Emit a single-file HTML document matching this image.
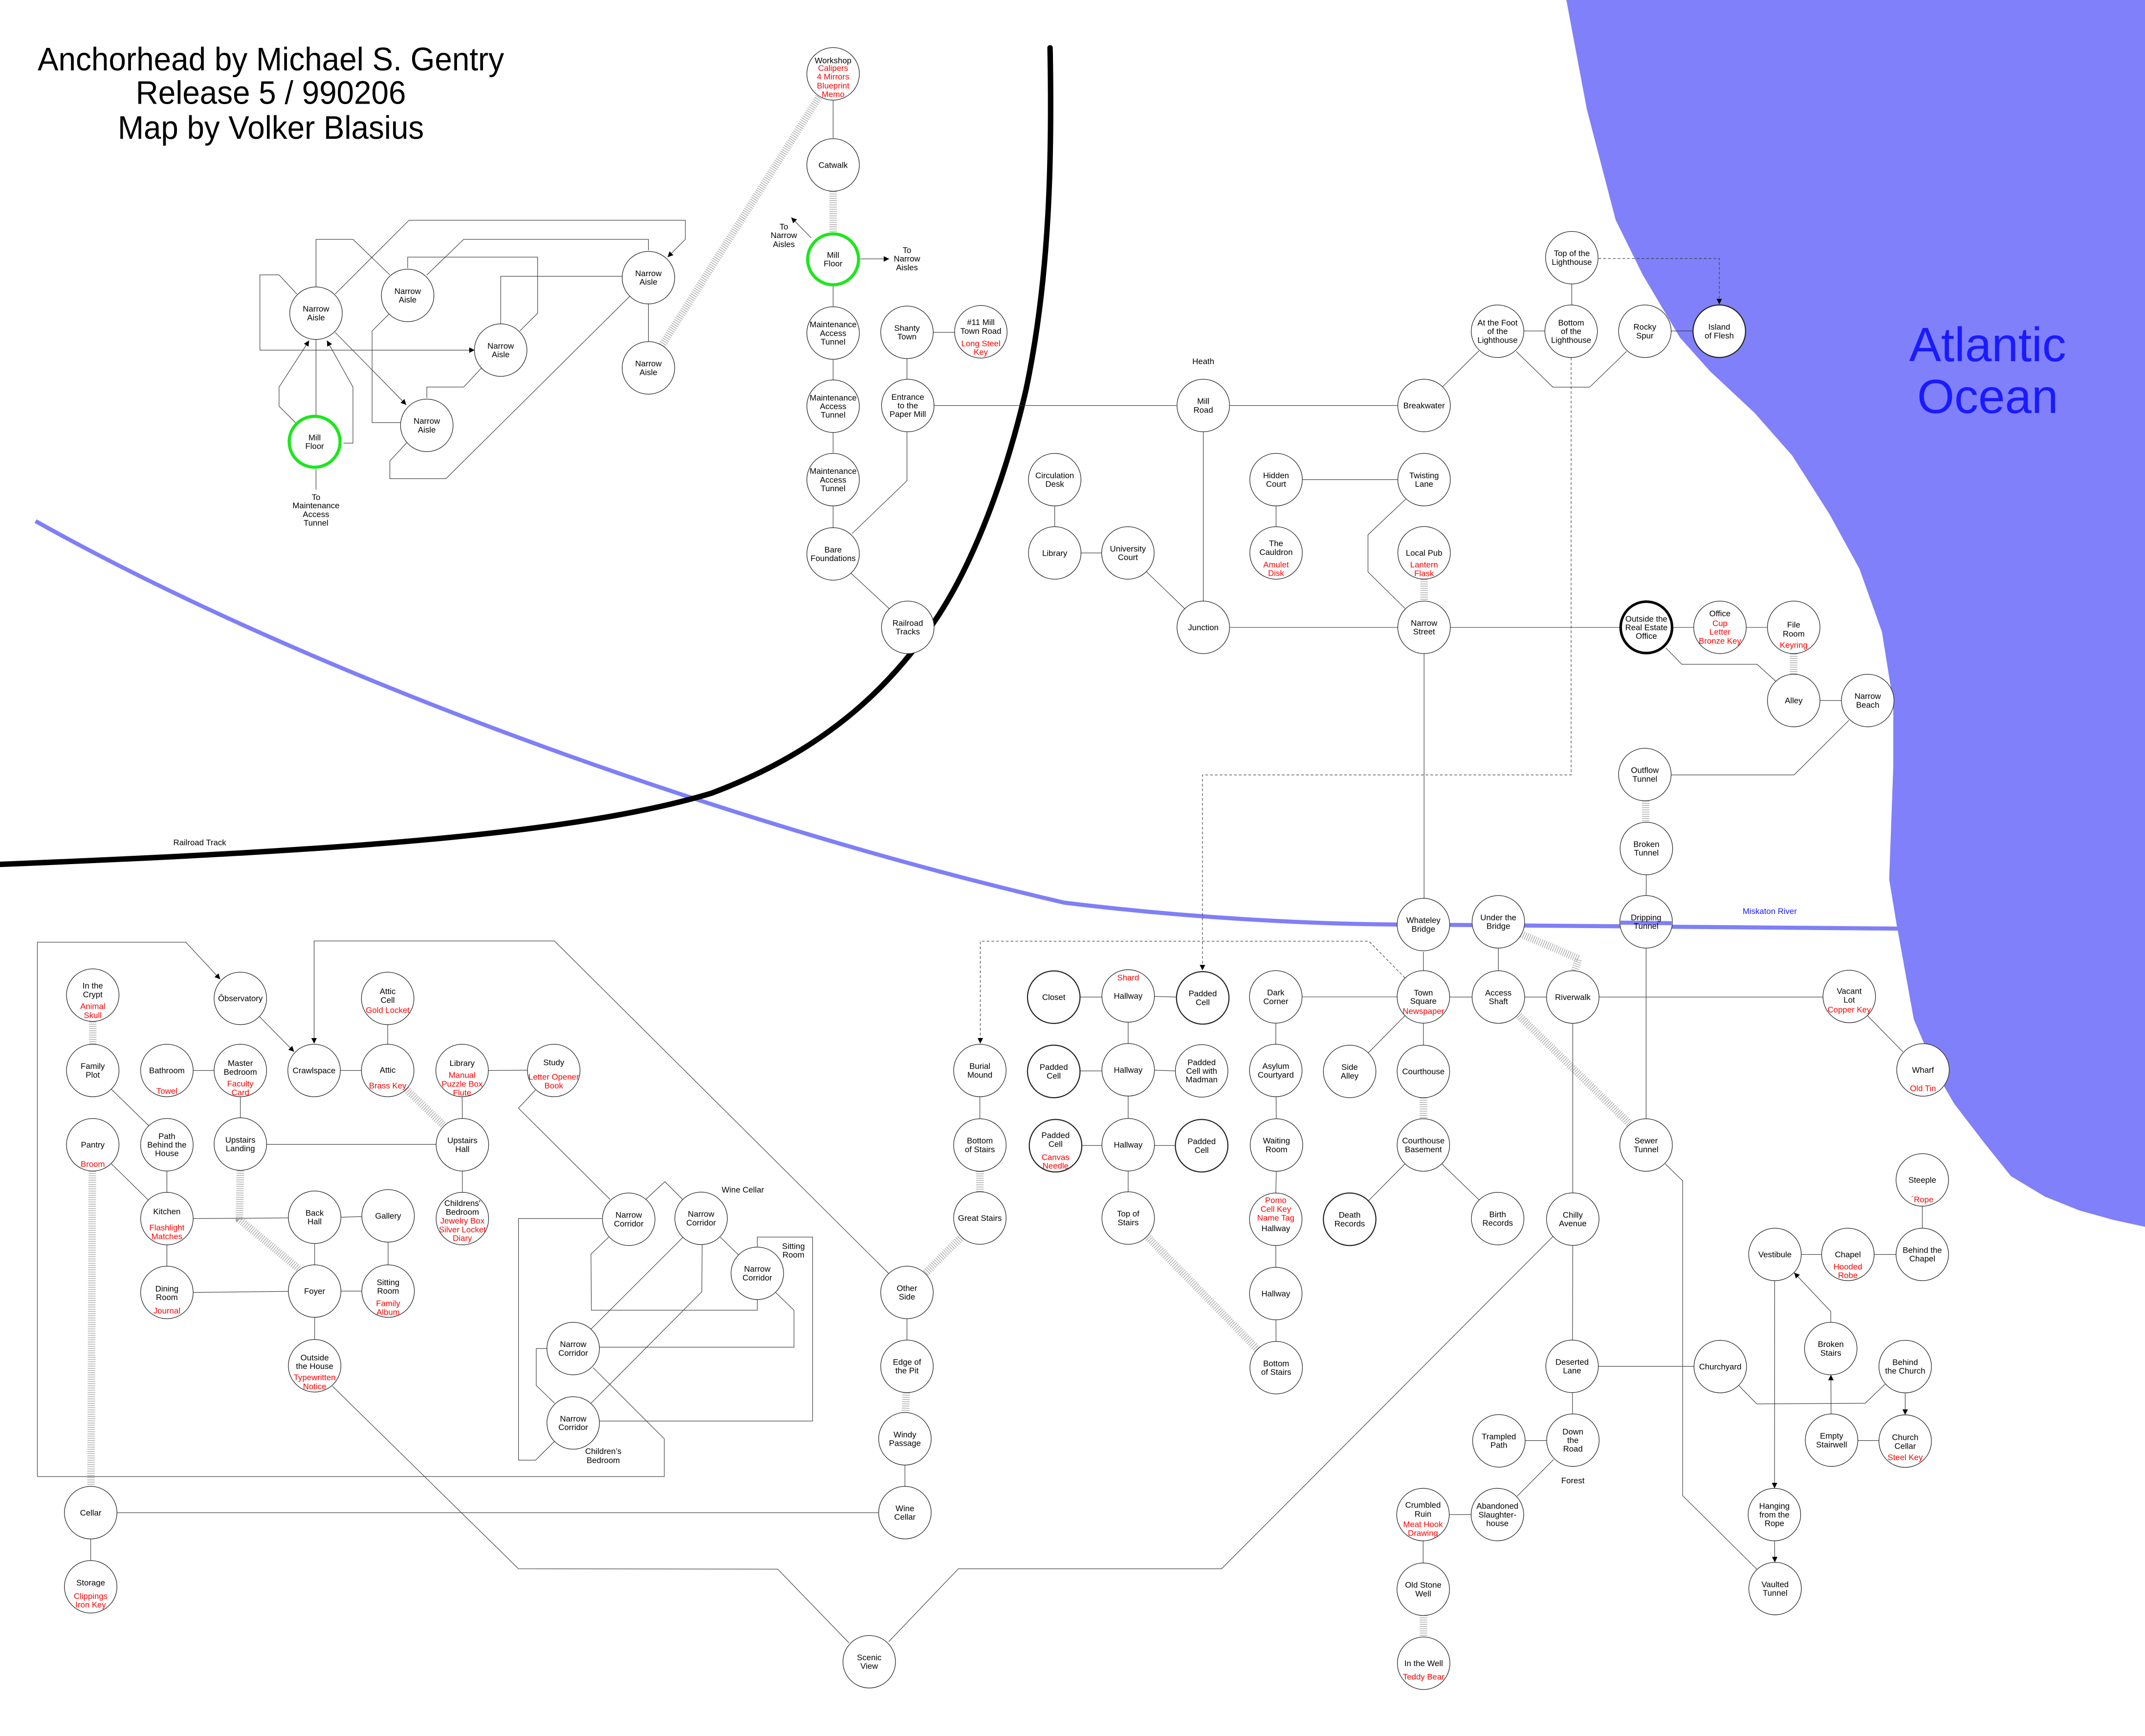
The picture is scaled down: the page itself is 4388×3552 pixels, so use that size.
<!DOCTYPE html>
<html><head><meta charset="utf-8"><style>
html,body{margin:0;padding:0;background:#fff;}
svg{display:block;}
text{font-family:"Liberation Sans",Arial,sans-serif;font-size:6px;text-anchor:middle;fill:#000;}
.r{fill:#ff0000;}
.ln{fill:none;stroke:#333;stroke-width:0.4;}
.ds{fill:none;stroke:#333;stroke-width:0.4;stroke-dasharray:2 1.5;}
.st{fill:none;stroke:#a8a8a8;stroke-width:5.5;stroke-dasharray:0.5 1.1;}
circle{fill:#fff;stroke:#222;stroke-width:0.45;}
.tk{stroke-width:0.8;}
.g{stroke:#1ee61e;stroke-width:2.3;}
.bk{stroke:#000;stroke-width:1.9;}
</style></head><body>
<svg xmlns="http://www.w3.org/2000/svg" width="4388" height="3552" viewBox="0 0 1568 1269.3" preserveAspectRatio="none">
<defs><marker id="a" viewBox="0 0 10 10" refX="10" refY="5" markerWidth="5" markerHeight="4" orient="auto" markerUnits="userSpaceOnUse"><path d="M0,0L10,5L0,10z" fill="#000"/></marker></defs>
<rect x="0" y="0" width="1568" height="1269.3" fill="#fff"/>

<path d="M26,381 C220,490 520,600 778,660 C900,675 1000,676 1030,676 L1390,679" fill="none" stroke="#7f7ff7" stroke-width="3"/>
<polygon fill="#8080fa" points="1145,0 1160,80 1181,160.7 1200.7,200.7 1228,246.8 1250,271.4 1282.7,302 1310,333 1337.4,376 1359.3,416 1375.7,462 1384,514 1384,560 1381,643 1386.4,675.7 1399,745.4 1416.5,786.4 1428.5,807 1450,835 1470,860 1495,875 1520,885 1545,892 1568,897 1568,0"/>
<text x="1453" y="264" style="font-size:35px;fill:#1a1aff">Atlantic</text>
<text x="1453" y="302" style="font-size:35px;fill:#1a1aff">Ocean</text>
<text x="1293.7" y="668.2" style="fill:#1a1aff">Miskaton River</text>

<path d="M767.6,35 C769,110 768,200 750,285 C735,350 712,410 686,450 C650,505 600,550 520,580 C420,610 250,622 0,632" fill="none" stroke="#000" stroke-width="4" stroke-linecap="round"/>
<text x="146" y="618">Railroad Track</text>

<text x="198" y="51.4" style="font-size:24px" textLength="341" lengthAdjust="spacingAndGlyphs">Anchorhead by Michael S. Gentry</text>
<text x="198" y="75.9" style="font-size:24px" textLength="197.5" lengthAdjust="spacingAndGlyphs">Release 5 / 990206</text>
<text x="198" y="101.5" style="font-size:24px" textLength="223.8" lengthAdjust="spacingAndGlyphs">Map by Volker Blasius</text>

<polyline class="ln" points="231,210 231,175 258,175 285,201"/>
<polyline class="ln" points="245,215 299,161 501,161 501,175 488,188" marker-end="url(#a)"/>
<polyline class="ln" points="217,215 204,201 190,201 190,256 347,256" marker-end="url(#a)"/>
<line class="ln" x1="245" y1="243" x2="297" y2="296" marker-end="url(#a)"/>
<polyline class="ln" points="251,324 258,324 258,283 239,249" marker-end="url(#a)"/>
<polyline class="ln" points="216,309 204,297 204,283 226,249" marker-end="url(#a)"/>
<line class="ln" x1="231" y1="304" x2="231" y2="248"/>
<line class="ln" x1="231" y1="343" x2="231" y2="358"/>
<polyline class="ln" points="298,196 298,188 393,188 393,229 380,242"/>
<polyline class="ln" points="312,201 339,175 474,175 474,183"/>
<polyline class="ln" points="285,229 272,242 272,309 293,309"/>
<polyline class="ln" points="366,237 366,202 456,202"/>
<polyline class="ln" points="352,269 339,283 312,283 312,291"/>
<polyline class="ln" points="298,323 285,337 285,350 326,350 461,216"/>
<line class="ln" x1="474" y1="221" x2="474" y2="250"/>
<line class="st" x1="483" y1="254" x2="600" y2="68.8"/>

<line class="ln" x1="609" y1="73.5" x2="609" y2="101"/>
<line class="st" x1="609" y1="140" x2="609" y2="170"/>
<line class="ln" x1="609" y1="209" x2="609" y2="224"/>
<line class="ln" x1="609" y1="263" x2="609" y2="278"/>
<line class="ln" x1="609" y1="316" x2="609" y2="331"/>
<line class="ln" x1="609" y1="370" x2="609" y2="386"/>
<line class="ln" x1="622" y1="419" x2="650" y2="445"/>
<polyline class="ln" points="623,390 663,351.5 663,316"/>
<line class="ln" x1="663" y1="262" x2="663" y2="277"/>
<line class="ln" x1="682" y1="243" x2="698" y2="243"/>
<line class="ln" x1="683" y1="296.5" x2="860" y2="296.5"/>
<line class="ln" x1="899" y1="296.5" x2="1022" y2="296.5"/>
<line class="ln" x1="879.6" y1="316" x2="879.6" y2="439.5"/>
<line class="ln" x1="1054.5" y1="282.8" x2="1081" y2="256.6"/>
<line class="ln" x1="1114" y1="242" x2="1129" y2="242"/>
<line class="ln" x1="1149" y1="207.5" x2="1149" y2="223"/>
<polyline class="ln" points="1108.4,257 1135.2,283.1 1162,283.1 1189,257"/>
<line class="ln" x1="1221.5" y1="242" x2="1237.6" y2="242"/>
<polyline class="ds" points="1168.5,189 1256.8,189 1256.8,222.5" marker-end="url(#a)"/>
<polyline class="ds" points="1148.5,261.5 1148.5,566.6 879,566.6 879,709.5" marker-end="url(#a)"/>
<polyline class="ds" points="1027,715 1000.7,688.2 716.6,688.2 716.6,763" marker-end="url(#a)"/>
<line class="ln" x1="771" y1="370" x2="771" y2="385"/>
<line class="ln" x1="790" y1="404.3" x2="805.5" y2="404.3"/>
<line class="ln" x1="838" y1="418" x2="866" y2="445"/>
<line class="ln" x1="952" y1="350.7" x2="1022" y2="350.7"/>
<line class="ln" x1="932.8" y1="370" x2="932.8" y2="385"/>
<polyline class="ln" points="1027.6,364.9 1000,391 1000,418.2 1027,444.8"/>
<line class="st" x1="1041" y1="423.5" x2="1041" y2="439.5"/>
<line class="ln" x1="899" y1="458.7" x2="1022" y2="458.7"/>
<line class="ln" x1="1060" y1="458.7" x2="1184" y2="458.7"/>
<line class="ln" x1="1223" y1="458.7" x2="1238" y2="458.7"/>
<line class="ln" x1="1276.5" y1="458.7" x2="1292" y2="458.7"/>
<line class="st" x1="1311.2" y1="478" x2="1311.2" y2="493"/>
<polyline class="ln" points="1217.7,473.7 1229.4,485.7 1284.4,485.7 1298.3,498.3"/>
<line class="ln" x1="1330.5" y1="512.2" x2="1346" y2="512.2"/>
<polyline class="ln" points="1351.6,526.6 1311.5,566.6 1221.5,566.6"/>
<line class="st" x1="1203" y1="585.5" x2="1203" y2="601"/>
<line class="ln" x1="1203.5" y1="639.6" x2="1203.3" y2="654.8"/>
<line class="ln" x1="1203.3" y1="693.2" x2="1203.3" y2="818"/>
<line class="ln" x1="1041" y1="478" x2="1041" y2="656.8"/>
<line class="ln" x1="1040.5" y1="696" x2="1040.5" y2="709.7"/>
<line class="ln" x1="1095.3" y1="693" x2="1095.3" y2="709.8"/>
<line class="ln" x1="1059.7" y1="729" x2="1076" y2="729"/>
<line class="ln" x1="1114.5" y1="729" x2="1130.5" y2="729"/>
<line class="ln" x1="1169" y1="729" x2="1332.6" y2="729"/>
<line class="ln" x1="1365" y1="742.5" x2="1391" y2="769"/>
<polyline class="st" points="1112,683 1154,701 1151,710"/>
<line class="st" x1="1107" y1="739.3" x2="1191" y2="821.5"/>
<line class="ln" x1="1149.7" y1="748.2" x2="1149.7" y2="872.2"/>
<polyline class="ln" points="1217.3,851 1230,863.3 1230,1093.6 1284.2,1147.3"/>
<polyline class="ln" points="1136,903.3 893,1147 700.6,1147 649.6,1200.4"/>
<line class="ln" x1="1149.7" y1="910.6" x2="1149.5" y2="979.8"/>
<line class="ln" x1="1168.5" y1="999" x2="1238.3" y2="999"/>
<line class="ln" x1="1149.5" y1="1018.2" x2="1149.5" y2="1033.8"/>
<line class="ln" x1="1115" y1="1053.3" x2="1130.6" y2="1053.3"/>
<line class="ln" x1="1135.6" y1="1067.2" x2="1109" y2="1094"/>
<line class="ln" x1="1075.4" y1="1107.4" x2="1059.4" y2="1107.4"/>
<line class="ln" x1="1040.3" y1="1126.6" x2="1040.3" y2="1142.8"/>
<line class="st" x1="1040.5" y1="1181" x2="1040.5" y2="1197"/>
<polyline class="ln" points="1270.6,1012.6 1284.2,1026.5 1363.5,1026 1378,1012"/>
<line class="ln" x1="1392.7" y1="1018.4" x2="1392.7" y2="1034.5" marker-end="url(#a)"/>
<line class="ln" x1="1358" y1="1053.3" x2="1373.5" y2="1053.3"/>
<line class="ln" x1="1338.5" y1="1033.8" x2="1338.4" y2="1005.2" marker-end="url(#a)"/>
<polyline class="ln" points="1338.3,966.8 1338.3,958.9 1311.5,930.5" marker-end="url(#a)"/>
<line class="ln" x1="1316.7" y1="917.2" x2="1331.6" y2="917.2"/>
<line class="ln" x1="1370" y1="917.2" x2="1386" y2="917.2"/>
<line class="ln" x1="1405.2" y1="882" x2="1405.2" y2="898"/>
<line class="ln" x1="1297.3" y1="936.4" x2="1297.2" y2="1088.2" marker-end="url(#a)"/>
<line class="ln" x1="1297.2" y1="1126.6" x2="1297.4" y2="1142.3" marker-end="url(#a)"/>
<line class="ln" x1="951.8" y1="728.9" x2="1021.3" y2="728.9"/>
<line class="ln" x1="1027" y1="742.7" x2="1000.3" y2="769.7"/>
<line class="ln" x1="1040.5" y1="748" x2="1040.5" y2="764.2"/>
<line class="st" x1="1040.5" y1="802.6" x2="1040.5" y2="818"/>
<line class="ln" x1="1027" y1="851" x2="1000.3" y2="878"/>
<line class="ln" x1="1054" y1="851" x2="1081.4" y2="877.5"/>
<line class="ln" x1="932.6" y1="748" x2="932.6" y2="763.5"/>
<line class="ln" x1="932.8" y1="802" x2="933" y2="818"/>
<line class="ln" x1="933" y1="856.4" x2="932.6" y2="872.3"/>
<line class="ln" x1="932.6" y1="910.7" x2="932.6" y2="926.6"/>
<line class="ln" x1="932.7" y1="965" x2="932.8" y2="980.8"/>
<line class="st" x1="919.2" y1="986.6" x2="838.5" y2="904"/>
<line class="ln" x1="789.5" y1="729" x2="805.5" y2="729"/>
<line class="ln" x1="844" y1="728.5" x2="860" y2="729"/>
<line class="ln" x1="824.7" y1="747.4" x2="824.7" y2="763"/>
<line class="ln" x1="824.7" y1="801.4" x2="824.7" y2="817.8"/>
<line class="ln" x1="824.7" y1="856.2" x2="824.7" y2="871.4"/>
<line class="ln" x1="789.5" y1="783" x2="805.5" y2="783"/>
<line class="ln" x1="844" y1="782.5" x2="859.2" y2="783"/>
<line class="ln" x1="790.8" y1="837.5" x2="805.5" y2="837.5"/>
<line class="ln" x1="844" y1="837.5" x2="859.2" y2="837.5"/>
<line class="ln" x1="716.3" y1="802" x2="716.3" y2="818"/>
<line class="st" x1="716.3" y1="856.4" x2="716.3" y2="871.4"/>
<line class="st" x1="703" y1="904.3" x2="676" y2="931.3"/>
<line class="ln" x1="663" y1="964.2" x2="663" y2="979.8"/>
<line class="st" x1="662.5" y1="1018.2" x2="661.8" y2="1032.8"/>
<line class="ln" x1="661.5" y1="1071.2" x2="661.5" y2="1086.8"/>
<line class="ln" x1="642.3" y1="1106" x2="85.5" y2="1106"/>
<polyline class="ln" points="649.5,931 405.3,688 229.6,688 229.6,763" marker-end="url(#a)"/>
<polyline class="ln" points="27.3,1079.6 27.3,688.9 135.8,688.9 161,716" marker-end="url(#a)"/>
<polyline class="ln" points="27.3,1079.6 485.6,1079.6 485.6,1052 433.6,1000"/>
<polyline class="ln" points="243,1013.5 379,1147 568.5,1147.3 620.6,1201.2"/>
<line class="st" x1="67.8" y1="747" x2="67.8" y2="763.5"/>
<line class="ln" x1="81.5" y1="796.5" x2="108.7" y2="823"/>
<line class="st" x1="67.5" y1="856.2" x2="66.5" y2="1086.8"/>
<line class="ln" x1="66.3" y1="1125.2" x2="66.3" y2="1141"/>
<line class="ln" x1="81.5" y1="851" x2="108.5" y2="877.5"/>
<line class="ln" x1="122" y1="856.2" x2="122" y2="871.8"/>
<line class="ln" x1="122" y1="910.2" x2="122" y2="925.8"/>
<line class="ln" x1="141.2" y1="891" x2="210.8" y2="890.5"/>
<line class="ln" x1="141.2" y1="945" x2="210.8" y2="944.2"/>
<line class="ln" x1="141.2" y1="782.7" x2="156.5" y2="782.7"/>
<line class="ln" x1="175.7" y1="802" x2="175.7" y2="817.3"/>
<line class="ln" x1="195" y1="836.7" x2="318.8" y2="836.7"/>
<polyline class="st" points="175.7,856 175,891.6 218.7,928"/>
<line class="ln" x1="189.4" y1="743" x2="215" y2="769" marker-end="url(#a)"/>
<line class="ln" x1="248.8" y1="782.7" x2="264.2" y2="782.7"/>
<line class="ln" x1="283.4" y1="749.3" x2="283.4" y2="763.5"/>
<line class="st" x1="297" y1="796.5" x2="324.5" y2="823"/>
<line class="ln" x1="357" y1="782.7" x2="385.6" y2="782.5"/>
<line class="ln" x1="337.8" y1="802" x2="338" y2="817.8"/>
<line class="ln" x1="338" y1="856.2" x2="338" y2="871.8"/>
<line class="ln" x1="249.2" y1="890" x2="264.5" y2="889.5"/>
<line class="ln" x1="230" y1="909.2" x2="230" y2="924.8"/>
<line class="ln" x1="283.7" y1="908.2" x2="283.7" y2="924.8"/>
<line class="ln" x1="249.2" y1="944" x2="264.5" y2="944"/>
<line class="ln" x1="230" y1="963.2" x2="230" y2="979.4"/>
<polyline class="ln" points="391.4,797 379,810.3 446,877"/>
<polyline class="ln" points="472,877 486,864 499,877"/>
<polyline class="ln" points="440,891 379,891 379,1067.6 391.5,1067.6 405.4,1053.8"/>
<polyline class="ln" points="445,904.5 432,917 432.3,958 553.6,958 553.6,950"/>
<line class="ln" x1="499.4" y1="904.5" x2="432" y2="971.8"/>
<polyline class="ln" points="513.3,909.6 513,944.5 432,1026"/>
<line class="ln" x1="526.5" y1="904.5" x2="539.7" y2="917.4"/>
<polyline class="ln" points="553.6,912 553.6,904.5 594,904.5 594,1039 438,1039"/>
<polyline class="ln" points="567,945 580.4,958 580.4,985 438,985"/>
<polyline class="ln" points="400,986 392,986 392,1013 405.4,1026"/>
<line class="ln" x1="593" y1="174" x2="578.4" y2="159" marker-end="url(#a)"/>
<line class="ln" x1="629" y1="189.3" x2="650" y2="189.3" marker-end="url(#a)"/>

<g>
<circle cx="231" cy="229" r="19.2"/><circle cx="298" cy="216" r="19.2"/><circle cx="366" cy="256" r="19.2"/>
<circle cx="474" cy="203" r="19.2"/><circle cx="474" cy="269" r="19.2"/><circle cx="312" cy="311" r="19.2"/>
<circle class="g" cx="230" cy="323" r="18.6"/>
<circle cx="609" cy="54" r="19.2"/><circle cx="609" cy="120.6" r="19.2"/><circle class="g" cx="609" cy="189.6" r="18.6"/>
<circle cx="609" cy="243.5" r="19.2"/><circle cx="609" cy="297" r="19.2"/><circle cx="609" cy="350.7" r="19.2"/>
<circle cx="609" cy="405" r="19.2"/><circle cx="663.6" cy="458.7" r="19.2"/><circle cx="663" cy="243" r="19.2"/>
<circle cx="717" cy="242.6" r="19.2"/><circle cx="663.6" cy="296.5" r="19.2"/><circle cx="879.6" cy="296.5" r="19.2"/>
<circle cx="1041" cy="296.5" r="19.2"/><circle cx="1094.7" cy="242.2" r="19.2"/><circle cx="1148.5" cy="242.2" r="19.2"/>
<circle cx="1149" cy="188.4" r="19.2"/><circle cx="1202.4" cy="242.2" r="19.2"/><circle class="tk" cx="1256.8" cy="242.2" r="19.2"/>
<circle cx="771" cy="350.7" r="19.2"/><circle cx="771" cy="404.3" r="19.2"/><circle cx="824.5" cy="404.3" r="19.2"/>
<circle cx="932.8" cy="350.7" r="19.2"/><circle cx="932.8" cy="404.3" r="19.2"/><circle cx="1041" cy="350.7" r="19.2"/>
<circle cx="1041" cy="404.2" r="19.2"/><circle cx="879.6" cy="458.7" r="19.2"/><circle cx="1041" cy="458.7" r="19.2"/>
<circle class="bk" cx="1203.5" cy="458.7" r="18.8"/><circle cx="1257.3" cy="458.7" r="19.2"/><circle cx="1311.2" cy="458.7" r="19.2"/>
<circle cx="1311.2" cy="512.2" r="19.2"/><circle cx="1365.3" cy="512.2" r="19.2"/><circle cx="1202.4" cy="566.3" r="19.2"/>
<circle cx="1203.5" cy="620.4" r="19.2"/><circle cx="1203.3" cy="674" r="19.2"/><circle cx="1040.5" cy="676" r="19.2"/>
<circle cx="1095.3" cy="674" r="19.2"/><circle cx="1040.5" cy="728.9" r="19.2"/><circle cx="1095.3" cy="729" r="19.2"/>
<circle cx="1149.7" cy="729" r="19.2"/><circle cx="1351.8" cy="728.6" r="19.2"/><circle cx="1405.7" cy="782.3" r="19.2"/>
<circle cx="1203.3" cy="837.2" r="19.2"/>
<circle class="tk" cx="770.3" cy="729.1" r="19.2"/><circle cx="824.7" cy="728.2" r="19.2"/><circle class="tk" cx="879.2" cy="729.6" r="19.2"/>
<circle cx="932.6" cy="728.9" r="19.2"/><circle cx="716.3" cy="782.7" r="19.2"/><circle class="tk" cx="770.3" cy="783.4" r="19.2"/>
<circle cx="824.7" cy="782.2" r="19.2"/><circle cx="878.4" cy="783" r="19.2"/><circle cx="932.6" cy="782.7" r="19.2"/>
<circle cx="986.6" cy="783.4" r="19.2"/><circle cx="1040.5" cy="783.4" r="19.2"/><circle cx="716.3" cy="837.2" r="19.2"/>
<circle class="tk" cx="771.6" cy="837.7" r="19.2"/><circle cx="824.7" cy="837" r="19.2"/><circle class="tk" cx="878.4" cy="837.7" r="19.2"/>
<circle cx="933.1" cy="837.2" r="19.2"/><circle cx="1040.5" cy="837.2" r="19.2"/><circle cx="716.3" cy="890.6" r="19.2"/>
<circle cx="824.7" cy="890.6" r="19.2"/><circle cx="932.6" cy="891.5" r="19.2"/><circle class="tk" cx="986.6" cy="891.5" r="19.2"/>
<circle cx="1094.8" cy="891" r="19.2"/><circle cx="1149.7" cy="891.4" r="19.2"/><circle cx="932.6" cy="945.8" r="19.2"/>
<circle cx="932.9" cy="1000" r="19.2"/><circle cx="1405.2" cy="862.7" r="19.2"/><circle cx="1297.5" cy="917.2" r="19.2"/>
<circle cx="1350.8" cy="917.2" r="19.2"/><circle cx="1405.2" cy="917.2" r="19.2"/><circle cx="1149.2" cy="999" r="19.2"/>
<circle cx="1257.5" cy="999.2" r="19.2"/><circle cx="1338.3" cy="986" r="19.2"/><circle cx="1392.7" cy="999.2" r="19.2"/>
<circle cx="1095.7" cy="1053.5" r="19.2"/><circle cx="1149.8" cy="1053" r="19.2"/><circle cx="1338.9" cy="1053" r="19.2"/>
<circle cx="1392.7" cy="1053.7" r="19.2"/><circle cx="1040.2" cy="1107.4" r="19.2"/><circle cx="1094.6" cy="1107.4" r="19.2"/>
<circle cx="1297.1" cy="1107.4" r="19.2"/><circle cx="1040.4" cy="1162" r="19.2"/><circle cx="1297.6" cy="1161.5" r="19.2"/>
<circle cx="1040.7" cy="1216.1" r="19.2"/><circle cx="663" cy="945" r="19.2"/><circle cx="663" cy="999" r="19.2"/>
<circle cx="661.5" cy="1052" r="19.2"/><circle cx="661.5" cy="1106" r="19.2"/><circle cx="635.4" cy="1215" r="19.2"/>
<circle cx="66.3" cy="1106" r="19.2"/><circle cx="66.3" cy="1160.2" r="19.2"/>
<circle cx="67.8" cy="727.6" r="19.2"/><circle cx="67.8" cy="782.7" r="19.2"/><circle cx="67.8" cy="837" r="19.2"/>
<circle cx="122" cy="837" r="19.2"/><circle cx="122" cy="891" r="19.2"/><circle cx="122" cy="945" r="19.2"/>
<circle cx="122" cy="782.7" r="19.2"/><circle cx="175.7" cy="782.7" r="19.2"/><circle cx="175.7" cy="836.5" r="19.2"/>
<circle cx="175.7" cy="730" r="19.2"/><circle cx="229.6" cy="782.7" r="19.2"/><circle cx="283.4" cy="730" r="19.2"/>
<circle cx="283.4" cy="782.7" r="19.2"/><circle cx="337.8" cy="782.7" r="19.2"/><circle cx="404.8" cy="782.7" r="19.2"/>
<circle cx="338" cy="837" r="19.2"/><circle cx="338" cy="891" r="19.2"/><circle cx="230" cy="890" r="19.2"/>
<circle cx="283.7" cy="889" r="19.2"/><circle cx="230" cy="944" r="19.2"/><circle cx="283.7" cy="944" r="19.2"/>
<circle cx="230" cy="998.6" r="19.2"/>
<circle cx="459.6" cy="891.5" r="19.2"/><circle cx="512.5" cy="890.8" r="19.2"/><circle cx="553.6" cy="931" r="19.2"/>
<circle cx="419" cy="986" r="19.2"/><circle cx="419" cy="1040.4" r="19.2"/>
</g>
<line x1="1184.5" y1="674.6" x2="1222" y2="675" stroke="#7f7ff7" stroke-width="3"/>

<text x="231" y="227.9">Narrow</text><text x="231" y="234.2">Aisle</text>
<text x="298" y="214.9">Narrow</text><text x="298" y="221.2">Aisle</text>
<text x="366" y="254.9">Narrow</text><text x="366" y="261.2">Aisle</text>
<text x="474" y="201.9">Narrow</text><text x="474" y="208.2">Aisle</text>
<text x="474" y="267.9">Narrow</text><text x="474" y="274.2">Aisle</text>
<text x="312" y="309.9">Narrow</text><text x="312" y="316.2">Aisle</text>
<text x="230" y="321.9">Mill</text><text x="230" y="328.2">Floor</text>
<text x="231" y="365.5">To</text><text x="231" y="371.7">Maintenance</text><text x="231" y="378">Access</text><text x="231" y="384.3">Tunnel</text>

<text x="609" y="46.3">Workshop</text><text class="r" x="609" y="51.9">Calipers</text><text class="r" x="609" y="58.1">4 Mirrors</text><text class="r" x="609" y="64.7">Blueprint</text><text class="r" x="609" y="70.9">Memo</text>
<text x="609" y="122.7">Catwalk</text>
<text x="609" y="188.5">Mill</text><text x="609" y="194.8">Floor</text>
<text x="573" y="167.7">To</text><text x="573" y="174.1">Narrow</text><text x="573" y="180.7">Aisles</text>
<text x="663" y="184.9">To</text><text x="663" y="191.1">Narrow</text><text x="663" y="197.6">Aisles</text>
<text x="609" y="239.3">Maintenance</text><text x="609" y="245.6">Access</text><text x="609" y="251.9">Tunnel</text>
<text x="609" y="292.8">Maintenance</text><text x="609" y="299.1">Access</text><text x="609" y="305.4">Tunnel</text>
<text x="609" y="346.5">Maintenance</text><text x="609" y="352.8">Access</text><text x="609" y="359.1">Tunnel</text>
<text x="609" y="403.9">Bare</text><text x="609" y="410.2">Foundations</text>
<text x="663.6" y="457.6">Railroad</text><text x="663.6" y="463.9">Tracks</text>
<text x="663" y="241.9">Shanty</text><text x="663" y="248.2">Town</text>
<text x="717" y="237.7">#11 Mill</text><text x="717" y="244.1">Town Road</text><text class="r" x="717" y="253.2">Long Steel</text><text class="r" x="717" y="259.5">Key</text>
<text x="663.6" y="292.3">Entrance</text><text x="663.6" y="298.6">to the</text><text x="663.6" y="304.9">Paper Mill</text>
<text x="879.6" y="266.3">Heath</text>
<text x="879.6" y="295.4">Mill</text><text x="879.6" y="301.7">Road</text>
<text x="1041" y="298.6">Breakwater</text>
<text x="1094.7" y="238">At the Foot</text><text x="1094.7" y="244.3">of the</text><text x="1094.7" y="250.6">Lighthouse</text>
<text x="1148.5" y="238">Bottom</text><text x="1148.5" y="244.3">of the</text><text x="1148.5" y="250.6">Lighthouse</text>
<text x="1149" y="187.3">Top of the</text><text x="1149" y="193.6">Lighthouse</text>
<text x="1202.4" y="241.1">Rocky</text><text x="1202.4" y="247.4">Spur</text>
<text x="1256.8" y="241.1">Island</text><text x="1256.8" y="247.4">of Flesh</text>
<text x="771" y="349.6">Circulation</text><text x="771" y="355.9">Desk</text>
<text x="771" y="406.4">Library</text>
<text x="824.5" y="403.2">University</text><text x="824.5" y="409.5">Court</text>
<text x="932.8" y="349.6">Hidden</text><text x="932.8" y="355.9">Court</text>
<text x="932.8" y="399.4">The</text><text x="932.8" y="405.8">Cauldron</text><text class="r" x="932.8" y="414.9">Amulet</text><text class="r" x="932.8" y="421.2">Disk</text>
<text x="1041" y="349.6">Twisting</text><text x="1041" y="355.9">Lane</text>
<text x="1041" y="406.3">Local Pub</text><text class="r" x="1041" y="414.9">Lantern</text><text class="r" x="1041" y="421.4">Flask</text>
<text x="879.6" y="460.8">Junction</text>
<text x="1041" y="457.6">Narrow</text><text x="1041" y="463.9">Street</text>
<text x="1203.5" y="454.5">Outside the</text><text x="1203.5" y="460.8">Real Estate</text><text x="1203.5" y="467.1">Office</text>
<text x="1257.3" y="450.6">Office</text><text class="r" x="1257.3" y="457.7">Cup</text><text class="r" x="1257.3" y="464.1">Letter</text><text class="r" x="1257.3" y="470.6">Bronze Key</text>
<text x="1311.2" y="458.9">File</text><text x="1311.2" y="465.4">Room</text><text class="r" x="1311.2" y="473.7">Keyring</text>
<text x="1311.2" y="514.3">Alley</text>
<text x="1365.3" y="511.1">Narrow</text><text x="1365.3" y="517.4">Beach</text>
<text x="1202.4" y="565.2">Outflow</text><text x="1202.4" y="571.5">Tunnel</text>
<text x="1203.5" y="619.3">Broken</text><text x="1203.5" y="625.6">Tunnel</text>
<text x="1203.3" y="672.9">Dripping</text><text x="1203.3" y="679.2">Tunnel</text>
<text x="1040.5" y="674.9">Whateley</text><text x="1040.5" y="681.2">Bridge</text>
<text x="1095.3" y="672.9">Under the</text><text x="1095.3" y="679.2">Bridge</text>
<text x="1040.5" y="728">Town</text><text x="1040.5" y="734">Square</text><text class="r" x="1040.5" y="741.3">Newspaper</text>
<text x="1095.3" y="727.9">Access</text><text x="1095.3" y="734.2">Shaft</text>
<text x="1149.7" y="731.1">Riverwalk</text>
<text x="1351.8" y="726.7">Vacant</text><text x="1351.8" y="733.1">Lot</text><text class="r" x="1351.8" y="740.3">Copper Key</text>
<text x="1405.7" y="784.4">Wharf</text><text class="r" x="1405.7" y="797.7">Old Tin</text>
<text x="1203.3" y="836.1">Sewer</text><text x="1203.3" y="842.4">Tunnel</text>
<text x="770.3" y="731.2">Closet</text>
<text class="r" x="824.7" y="716.9">Shard</text><text x="824.7" y="730.3">Hallway</text>
<text x="879.2" y="728.5">Padded</text><text x="879.2" y="734.8">Cell</text>
<text x="932.6" y="727.8">Dark</text><text x="932.6" y="734.1">Corner</text>
<text x="716.3" y="781.6">Burial</text><text x="716.3" y="787.9">Mound</text>
<text x="770.3" y="782.3">Padded</text><text x="770.3" y="788.6">Cell</text>
<text x="824.7" y="784.3">Hallway</text>
<text x="878.4" y="778.8">Padded</text><text x="878.4" y="785.1">Cell with</text><text x="878.4" y="791.4">Madman</text>
<text x="932.6" y="781.6">Asylum</text><text x="932.6" y="787.9">Courtyard</text>
<text x="986.6" y="782.3">Side</text><text x="986.6" y="788.6">Alley</text>
<text x="1040.5" y="785.5">Courthouse</text>
<text x="716.3" y="836.1">Bottom</text><text x="716.3" y="842.4">of Stairs</text>
<text x="771.6" y="832.1">Padded</text><text x="771.6" y="838.6">Cell</text><text class="r" x="771.6" y="848.2">Canvas</text><text class="r" x="771.6" y="854.4">Needle</text>
<text x="824.7" y="839.1">Hallway</text>
<text x="878.4" y="836.6">Padded</text><text x="878.4" y="842.9">Cell</text>
<text x="933.1" y="836.1">Waiting</text><text x="933.1" y="842.4">Room</text>
<text x="1040.5" y="836.1">Courthouse</text><text x="1040.5" y="842.4">Basement</text>
<text x="716.3" y="892.7">Great Stairs</text>
<text x="824.7" y="889.5">Top of</text><text x="824.7" y="895.8">Stairs</text>
<text class="r" x="932.6" y="879.6">Pomo</text><text class="r" x="932.6" y="886">Cell Key</text><text class="r" x="932.6" y="892.4">Name Tag</text><text x="932.6" y="900.1">Hallway</text>
<text x="986.6" y="890.4">Death</text><text x="986.6" y="896.7">Records</text>
<text x="1094.8" y="889.9">Birth</text><text x="1094.8" y="896.2">Records</text>
<text x="1149.7" y="890.3">Chilly</text><text x="1149.7" y="896.6">Avenue</text>
<text x="932.6" y="947.9">Hallway</text>
<text x="932.9" y="998.9">Bottom</text><text x="932.9" y="1005.2">of Stairs</text>
<text x="1405.2" y="864.8">Steeple</text><text class="r" x="1405.2" y="879.1">´Rope</text>
<text x="1297.5" y="919.3">Vestibule</text>
<text x="1350.8" y="919.3">Chapel</text><text class="r" x="1350.8" y="928.3">Hooded</text><text class="r" x="1350.8" y="934.5">Robe</text>
<text x="1405.2" y="916.1">Behind the</text><text x="1405.2" y="922.4">Chapel</text>
<text x="1149.2" y="997.9">Deserted</text><text x="1149.2" y="1004.2">Lane</text>
<text x="1257.5" y="1001.3">Churchyard</text>
<text x="1338.3" y="984.9">Broken</text><text x="1338.3" y="991.2">Stairs</text>
<text x="1392.7" y="998.1">Behind</text><text x="1392.7" y="1004.4">the Church</text>
<text x="1095.7" y="1052.4">Trampled</text><text x="1095.7" y="1058.7">Path</text>
<text x="1149.8" y="1048.8">Down</text><text x="1149.8" y="1055.1">the</text><text x="1149.8" y="1061.4">Road</text>
<text x="1149.8" y="1084.6">Forest</text>
<text x="1338.9" y="1051.9">Empty</text><text x="1338.9" y="1058.2">Stairwell</text>
<text x="1392.7" y="1053">Church</text><text x="1392.7" y="1059.3">Cellar</text><text class="r" x="1392.7" y="1067.5">Steel Key</text>
<text x="1040.2" y="1102.5">Crumbled</text><text x="1040.2" y="1109.1">Ruin</text><text class="r" x="1040.2" y="1116.5">Meat Hook</text><text class="r" x="1040.2" y="1123">Drawing</text>
<text x="1094.6" y="1103.2">Abandoned</text><text x="1094.6" y="1109.5">Slaughter-</text><text x="1094.6" y="1115.8">house</text>
<text x="1297.1" y="1103.2">Hanging</text><text x="1297.1" y="1109.5">from the</text><text x="1297.1" y="1115.8">Rope</text>
<text x="1040.4" y="1160.9">Old Stone</text><text x="1040.4" y="1167.2">Well</text>
<text x="1297.6" y="1160.4">Vaulted</text><text x="1297.6" y="1166.7">Tunnel</text>
<text x="1040.7" y="1218.2">In the Well</text><text class="r" x="1040.7" y="1228">Teddy Bear</text>
<text x="663" y="943.9">Other</text><text x="663" y="950.2">Side</text>
<text x="663" y="997.9">Edge of</text><text x="663" y="1004.2">the Pit</text>
<text x="661.5" y="1050.9">Windy</text><text x="661.5" y="1057.2">Passage</text>
<text x="661.5" y="1104.9">Wine</text><text x="661.5" y="1111.2">Cellar</text>
<text x="635.4" y="1213.9">Scenic</text><text x="635.4" y="1220.2">View</text>
<text x="66.3" y="1108.1">Cellar</text>
<text x="66.3" y="1159.3">Storage</text><text class="r" x="66.3" y="1169">Clippings</text><text class="r" x="66.3" y="1175.3">Iron Key</text>
<text x="67.8" y="722.7">In the</text><text x="67.8" y="729.2">Crypt</text><text class="r" x="67.8" y="737.7">Animal</text><text class="r" x="67.8" y="744.3">Skull</text>
<text x="67.8" y="781.6">Family</text><text x="67.8" y="787.9">Plot</text>
<text x="67.8" y="839.1">Pantry</text><text class="r" x="67.8" y="853.1">Broom</text>
<text x="122" y="832.8">Path</text><text x="122" y="839.1">Behind the</text><text x="122" y="845.4">House</text>
<text x="122" y="887.8">Kitchen</text><text class="r" x="122" y="899.6">Flashlight</text><text class="r" x="122" y="906.1">Matches</text>
<text x="122" y="944.3">Dining</text><text x="122" y="950.6">Room</text><text class="r" x="122" y="960.4">Journal</text>
<text x="122" y="784.8">Bathroom</text><text class="r" x="122" y="799.8">Towel</text>
<text x="175.7" y="779.3">Master</text><text x="175.7" y="785.8">Bedroom</text><text class="r" x="175.7" y="794.4">Faculty</text><text class="r" x="175.7" y="800.8">Card</text>
<text x="175.7" y="835.4">Upstairs</text><text x="175.7" y="841.7">Landing</text>
<text x="175.7" y="732.1">Ôbservatory</text>
<text x="229.6" y="784.8">Crawlspace</text>
<text x="283.4" y="726.9">Attic</text><text x="283.4" y="733.3">Cell</text><text class="r" x="283.4" y="740.6">Gold Locket</text>
<text x="283.4" y="784.4">Attic</text><text class="r" x="283.4" y="795.8">Brass Key</text>
<text x="337.8" y="779.3">Library</text><text class="r" x="337.8" y="788.2">Manual</text><text class="r" x="337.8" y="794.6">Puzzle Box</text><text class="r" x="337.8" y="801">Flute</text>
<text x="404.8" y="778.8">Study</text><text class="r" x="404.8" y="789.3">Letter Opener</text><text class="r" x="404.8" y="795.8">Book</text>
<text x="338" y="835.9">Upstairs</text><text x="338" y="842.2">Hall</text>
<text x="338" y="881.8">Childrens'</text><text x="338" y="888.2">Bedroom</text><text class="r" x="338" y="894.6">Jewelry Box</text><text class="r" x="338" y="901">Silver Locket</text><text class="r" x="338" y="907.4">Diary</text>
<text x="230" y="888.9">Back</text><text x="230" y="895.2">Hall</text>
<text x="283.7" y="891.1">Gallery</text>
<text x="230" y="946.1">Foyer</text>
<text x="283.7" y="939.7">Sitting</text><text x="283.7" y="945.9">Room</text><text class="r" x="283.7" y="955.1">Family</text><text class="r" x="283.7" y="961.4">Album</text>
<text x="230" y="994.7">Outside</text><text x="230" y="1001">the House</text><text class="r" x="230" y="1009.2">Typewritten</text><text class="r" x="230" y="1015.7">Notice</text>
<text x="459.6" y="890.4">Narrow</text><text x="459.6" y="896.7">Corridor</text>
<text x="512.5" y="889.7">Narrow</text><text x="512.5" y="896">Corridor</text>
<text x="553.6" y="929.9">Narrow</text><text x="553.6" y="936.2">Corridor</text>
<text x="419" y="984.9">Narrow</text><text x="419" y="991.2">Corridor</text>
<text x="419" y="1039.3">Narrow</text><text x="419" y="1045.6">Corridor</text>
<text x="543" y="872">Wine Cellar</text>
<text x="580" y="913.2">Sitting</text><text x="580" y="919.5">Room</text>
<text x="441" y="1063.1">Children’s</text><text x="441" y="1069.7">Bedroom</text>
</svg>
</body></html>
